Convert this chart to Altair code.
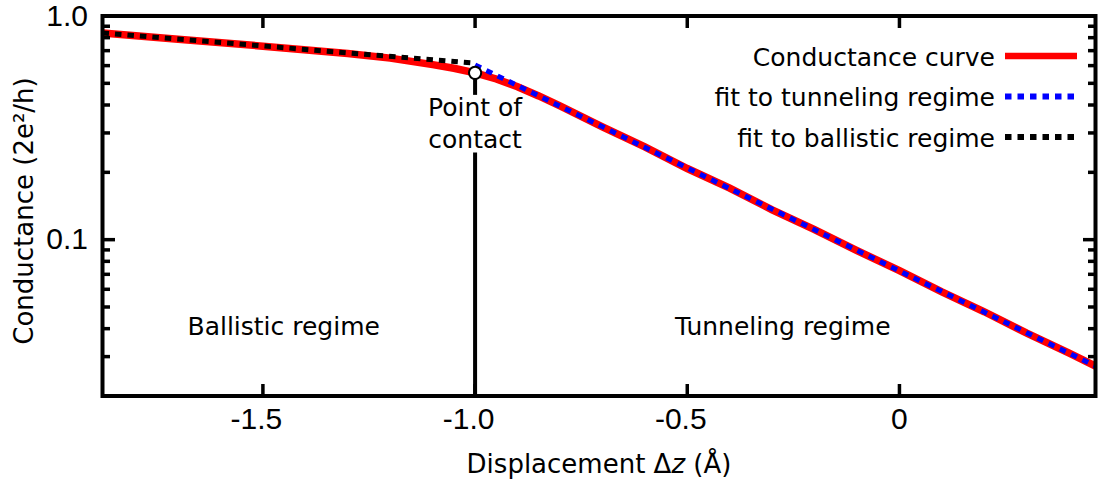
import altair as alt
import pandas as pd

# Measured conductance trace G(dz), in units of 2e^2/h
disp = [-1.878, -1.7, -1.5, -1.3, -1.2, -1.1, -1.05, -1.0, -0.95, -0.9, -0.85,
        -0.8, -0.7, -0.6, -0.5, -0.4, -0.3, -0.2, -0.1, 0.0, 0.1, 0.2, 0.3,
        0.4, 0.462]
cond = [0.840, 0.788, 0.733, 0.680, 0.648, 0.606, 0.584, 0.557, 0.523, 0.483,
        0.439, 0.396, 0.319, 0.260, 0.208, 0.170, 0.136, 0.111, 0.0893, 0.0727,
        0.0584, 0.0476, 0.0382, 0.0311, 0.0272]

# Exponential fits: end points only, straight on the log axis
tunnel_x = [-1.0, 0.462]
tunnel_g = [0.604, 0.0272]
ballistic_x = [-1.878, -1.0]
ballistic_g = [0.840, 0.615]

# Point of contact and the marker line below it (split around its label)
contact_x = [-1.0]
contact_g = [0.557]
vline_x = [-1.0, -1.0]
vline_top = [0.557, 0.245]
vline_bot = [0.444, 0.02]

# Text annotations
note_text = ["Point of", "contact", "Ballistic regime", "Tunneling regime"]
note_x = [-1.0, -1.0, -1.451, -0.275]
note_g = [0.358, 0.2571, 0.0373, 0.0373]

# Axis ticks and their labels
x_ticks = [-1.5, -1.0, -0.5, 0.0]
x_tick_labels = ["-1.5", "-1.0", "-0.5", "0"]
y_major = [0.1, 1.0]
y_major_labels = ["0.1", "1.0"]
y_minor = [0.02, 0.03, 0.04, 0.05, 0.06, 0.07, 0.08, 0.09,
           0.2, 0.3, 0.4, 0.5, 0.6, 0.7, 0.8, 0.9]

legend_labels = ["Conductance curve", "fit to tunneling regime", "fit to ballistic regime"]
legend_colors = ["#ff0000", "#0000ff", "#000000"]

W, H = 993, 380
TEXT_FONT = "DejaVu Sans"
NUM_FONT = "Liberation Sans"
DASH = [6.5, 6]
RED_W = 7.5
DOT_W = 5

xs = alt.Scale(domain=[-1.878, 0.462], nice=False, zero=False)
ys = alt.Scale(type="log", domain=[0.02, 1.0], nice=False)


def X(field="x"):
    return alt.X(f"{field}:Q", scale=xs, axis=None)


def Y(field="g"):
    return alt.Y(f"{field}:Q", scale=ys, axis=None)


curve_df = pd.DataFrame({"x": disp, "g": cond})
tunnel_df = pd.DataFrame({"x": tunnel_x, "g": tunnel_g})
ball_df = pd.DataFrame({"x": ballistic_x, "g": ballistic_g})
contact_df = pd.DataFrame({"x": contact_x, "g": contact_g})
vline_df = pd.DataFrame({"x": vline_x, "g": vline_top, "g2": vline_bot})
note_df = pd.DataFrame({"x": note_x, "g": note_g, "text": note_text})
xt_df = pd.DataFrame({"x": x_ticks, "label": x_tick_labels})
ymaj_df = pd.DataFrame({"g": y_major, "label": y_major_labels})
ymin_df = pd.DataFrame({"g": y_minor})
one = pd.DataFrame({"k": [0]})

curve = alt.Chart(curve_df).mark_line(color="#ff0000", strokeWidth=RED_W).encode(x=X(), y=Y())
tunnel = alt.Chart(tunnel_df).mark_line(
    color="#0000ff", strokeWidth=DOT_W, strokeDash=DASH).encode(x=X(), y=Y())
ballistic = alt.Chart(ball_df).mark_line(
    color="#000000", strokeWidth=DOT_W, strokeDash=DASH).encode(x=X(), y=Y())
vline = alt.Chart(vline_df).mark_rule(color="black", strokeWidth=4).encode(
    x=X(), y=Y(), y2="g2:Q")
contact = alt.Chart(contact_df).mark_point(
    shape="circle", filled=True, fill="white", stroke="black", strokeWidth=2,
    size=150, opacity=1,
).encode(x=X(), y=Y())
notes = alt.Chart(note_df).mark_text(
    font=TEXT_FONT, fontSize=25, color="black", align="center", baseline="alphabetic"
).encode(x=X(), y=Y(), text="text:N")

# Inward ticks on all four sides
tick_style = dict(color="black", strokeWidth=3.5)
xt_bottom = alt.Chart(xt_df).mark_rule(**tick_style).encode(
    x=X(), y=alt.value(H), y2=alt.value(H - 12))
xt_top = alt.Chart(xt_df).mark_rule(**tick_style).encode(
    x=X(), y=alt.value(0), y2=alt.value(12))
ymaj_left = alt.Chart(ymaj_df).mark_rule(**tick_style).encode(
    y=Y(), x=alt.value(0), x2=alt.value(12.5))
ymaj_right = alt.Chart(ymaj_df).mark_rule(**tick_style).encode(
    y=Y(), x=alt.value(W), x2=alt.value(W - 12.5))
ymin_left = alt.Chart(ymin_df).mark_rule(**tick_style).encode(
    y=Y(), x=alt.value(0), x2=alt.value(7.5))
ymin_right = alt.Chart(ymin_df).mark_rule(**tick_style).encode(
    y=Y(), x=alt.value(W), x2=alt.value(W - 7.5))

# Tick labels
num_style = dict(font=NUM_FONT, fontSize=30, color="black", baseline="alphabetic")
xlab_neg = alt.Chart(xt_df).transform_filter("datum.x < 0").mark_text(
    align="center", dx=-6.5, **num_style).encode(x=X(), y=alt.value(H + 33), text="label:N")
xlab_pos = alt.Chart(xt_df).transform_filter("datum.x >= 0").mark_text(
    align="center", **num_style).encode(x=X(), y=alt.value(H + 33), text="label:N")
ylab = alt.Chart(ymaj_df).mark_text(
    align="right", dy=9.5, **num_style).encode(x=alt.value(-14.5), y=Y(), text="label:N")

# Axis titles (the x title has an italic z)
title_size = 26
title_style = dict(font=TEXT_FONT, fontSize=title_size, color="black", baseline="alphabetic")
ytitle = alt.Chart(one).mark_text(
    align="center", angle=270, text="Conductance (2e²/h)", **title_style
).encode(x=alt.value(-69.5), y=alt.value(195))

em = title_size
t_start = 364.1
t_base = H + 77
xt1 = alt.Chart(one).mark_text(align="left", text="Displacement Δ", **title_style).encode(
    x=alt.value(t_start), y=alt.value(t_base))
xt2 = alt.Chart(one).mark_text(align="left", fontStyle="italic", text="z", **title_style).encode(
    x=alt.value(t_start + 7.877 * em), y=alt.value(t_base))
xt3 = alt.Chart(one).mark_text(align="left", text="(Å)", **title_style).encode(
    x=alt.value(t_start + (7.877 + 0.525 + 0.318) * em), y=alt.value(t_base))

# Legend in the upper right: label, then line sample
legend_layers = []
for i, (label, col) in enumerate(zip(legend_labels, legend_colors)):
    ly = 40 + 40.5 * i
    ldf = pd.DataFrame({"label": [label]})
    style = dict(color=col, strokeWidth=6.5)
    if i > 0:
        style = dict(color=col, strokeWidth=6, strokeDash=DASH)
    legend_layers.append(
        alt.Chart(ldf).mark_rule(**style).encode(
            x=alt.value(902.5), x2=alt.value(974.5), y=alt.value(ly))
    )
    legend_layers.append(
        alt.Chart(ldf).mark_text(font=TEXT_FONT, fontSize=25, color="black",
                                 align="right", baseline="alphabetic").encode(
            text="label:N", x=alt.value(892.5), y=alt.value(ly + 9.5))
    )

frame = alt.Chart(one).mark_rect(filled=False, stroke="black", strokeWidth=4).encode(
    x=alt.value(0), x2=alt.value(W), y=alt.value(0), y2=alt.value(H))

chart = alt.layer(
    curve, tunnel, ballistic, vline, contact, notes,
    xt_bottom, xt_top, ymaj_left, ymaj_right, ymin_left, ymin_right,
    xlab_neg, xlab_pos, ylab, ytitle, xt1, xt2, xt3, *legend_layers, frame,
).properties(
    width=W, height=H,
    autosize=alt.AutoSizeParams(type="none"),
    padding={"left": 102.5, "top": 16, "right": 6.5, "bottom": 90},
    background="white",
).configure_view(stroke="transparent")

chart.save("out.html", embed_options={"renderer": "svg", "actions": False})
